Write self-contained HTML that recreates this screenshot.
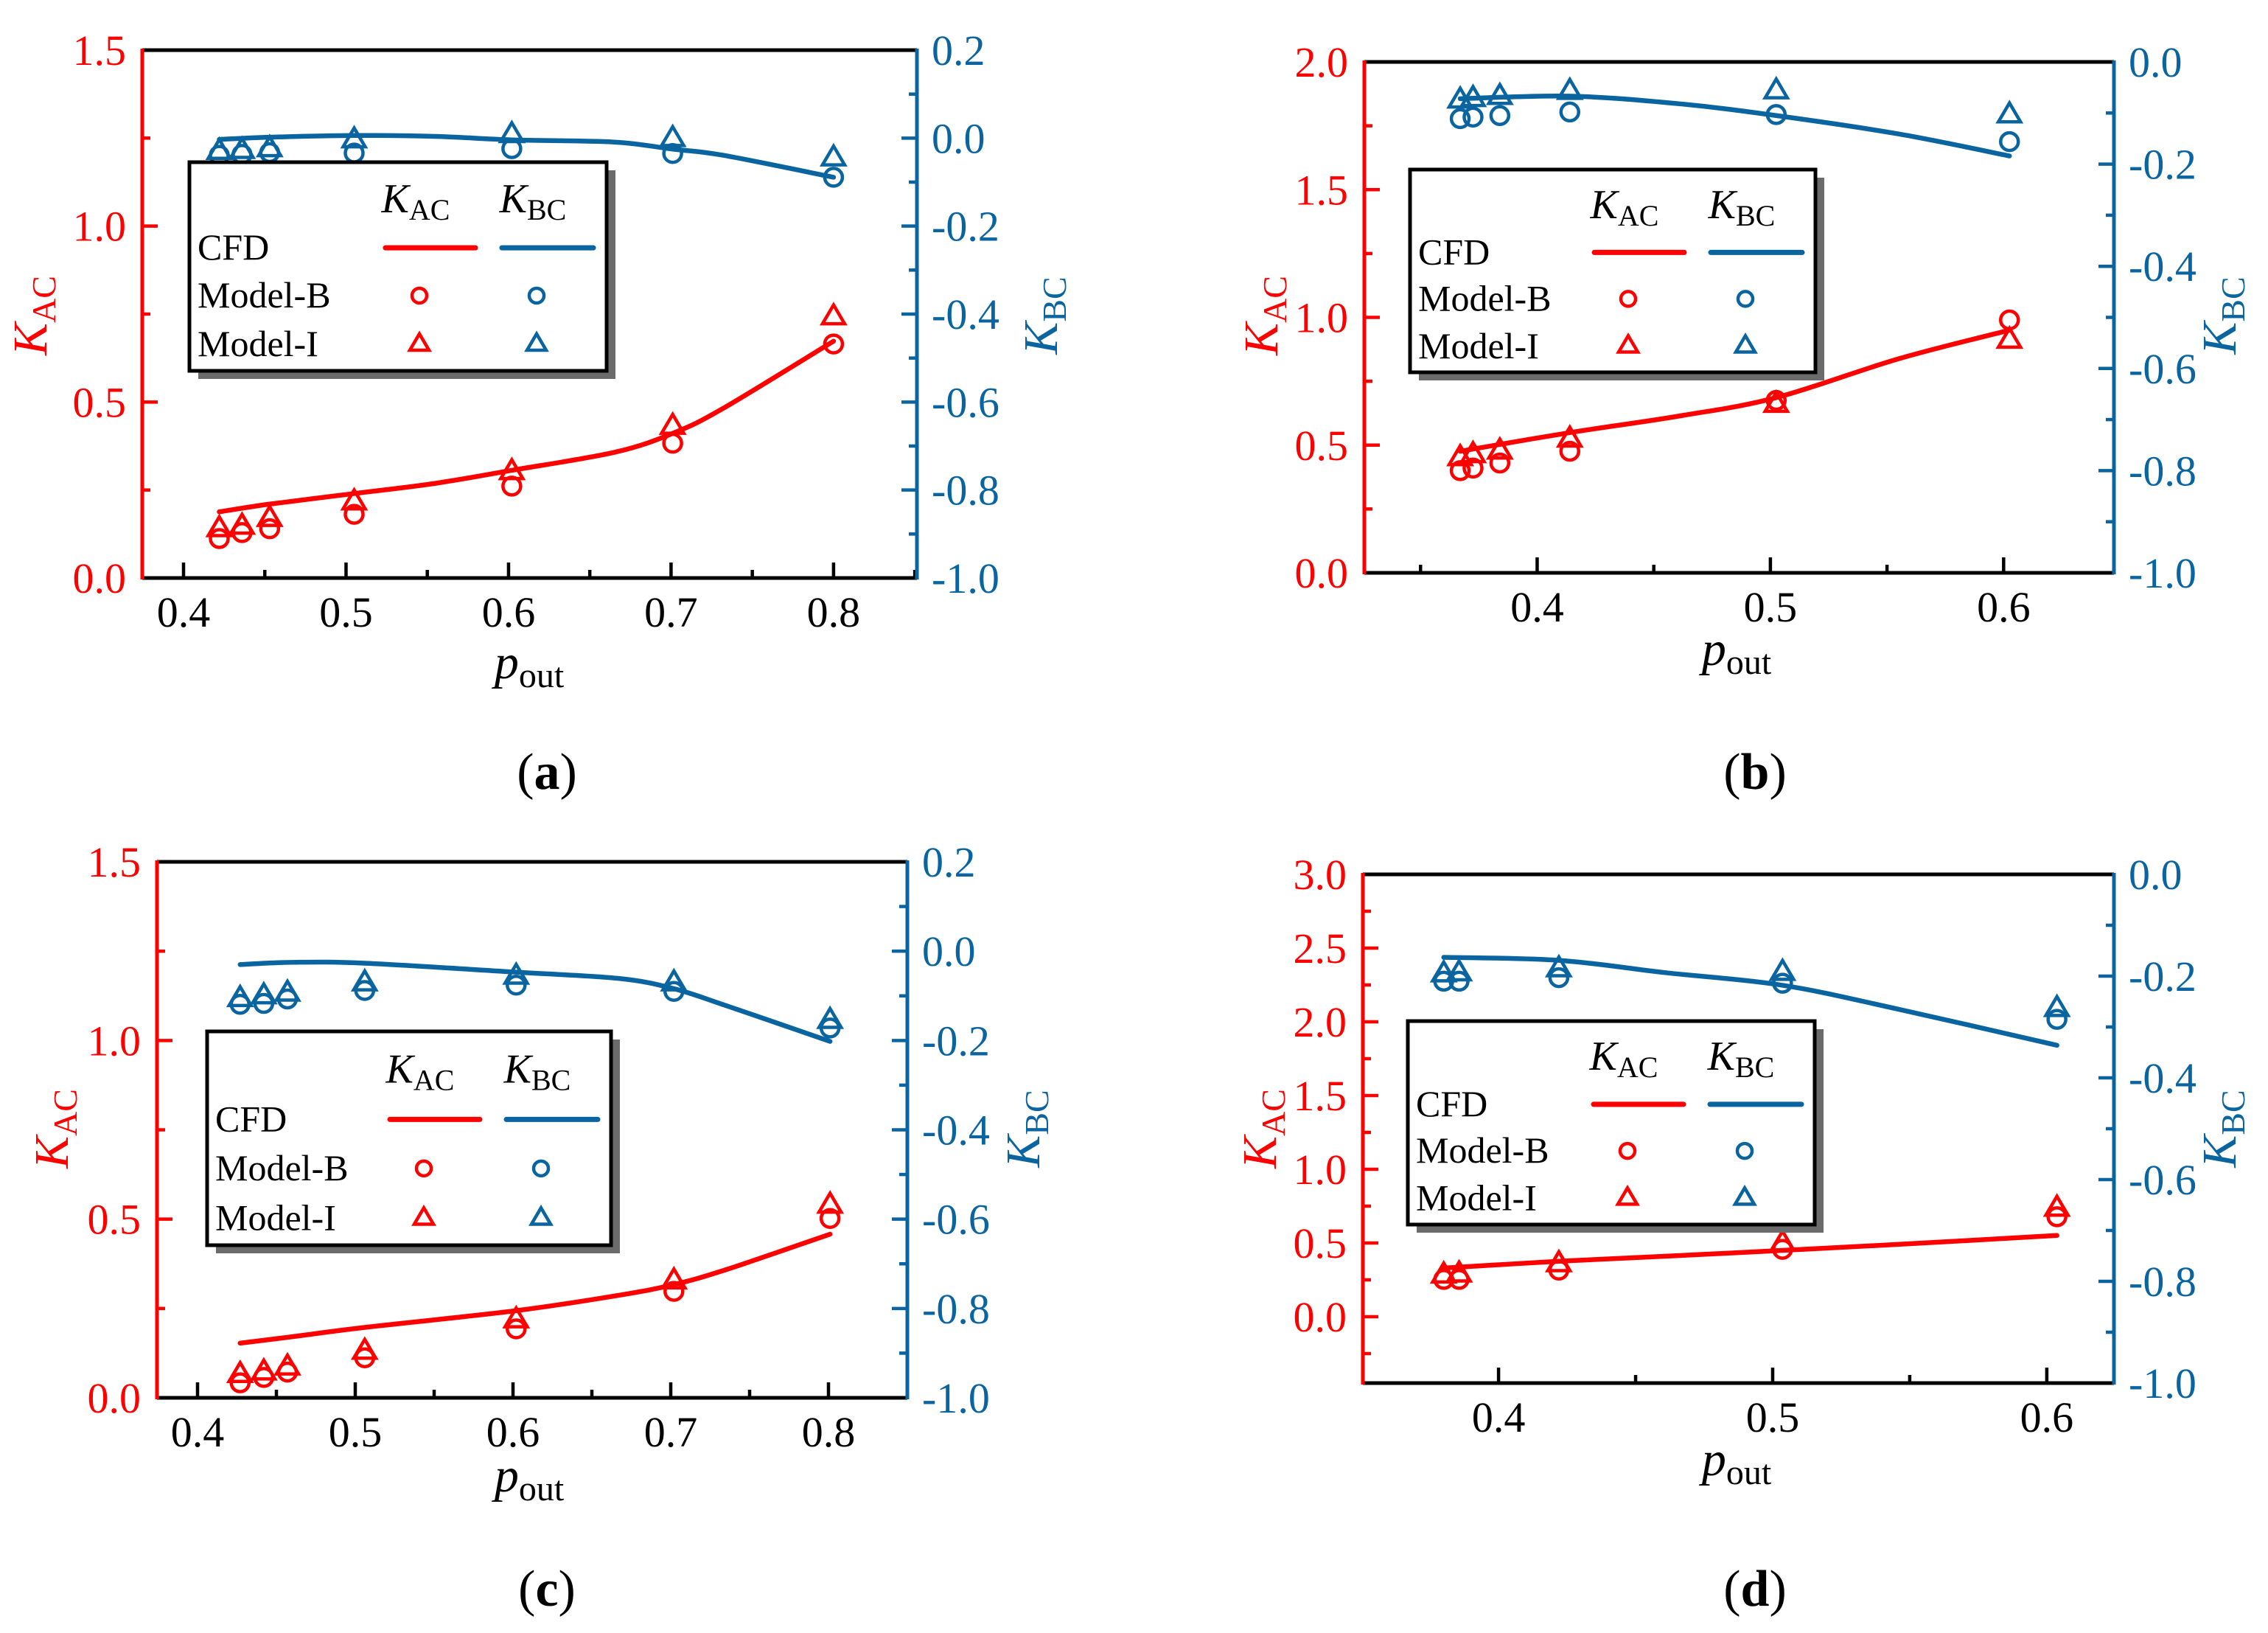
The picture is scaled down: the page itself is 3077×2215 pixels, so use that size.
<!DOCTYPE html>
<html><head><meta charset="utf-8">
<style>
html,body{margin:0;padding:0;background:#fff;}
svg{display:block;font-family:"Liberation Serif",serif;}
</style></head>
<body>
<svg id="fig" width="3077" height="2215" viewBox="0 0 3077 2215" xmlns="http://www.w3.org/2000/svg"></svg>
<script>
// ---------- Data ----------
// Panel a
const aCfdX=[0.422,0.453,0.505,0.555,0.602,0.665,0.701,0.732,0.800];
const aCfdAC=[0.188,0.21,0.24,0.269,0.306,0.357,0.411,0.482,0.673];
const aCfdBC=[-0.003,0.002,0.006,0.004,-0.004,-0.009,-0.025,-0.039,-0.089];
const aX=[0.422,0.436,0.453,0.505,0.602,0.701,0.800];
const aBAC=[0.112,0.129,0.14,0.181,0.261,0.383,0.665];
const aIAC=[0.144,0.151,0.173,0.22,0.306,0.435,0.746];
const aBBC=[-0.039,-0.037,-0.033,-0.034,-0.024,-0.035,-0.089];
const aIBC=[-0.027,-0.025,-0.021,-0.001,0.011,0.002,-0.042];
// Panel b
const bCfdX=[0.367,0.414,0.461,0.5025,0.555,0.6025];
const bCfdAC=[0.476,0.549,0.614,0.686,0.838,0.95];
const bCfdBC=[-0.072,-0.067,-0.082,-0.105,-0.141,-0.184];
const bX=[0.367,0.3725,0.384,0.414,0.5025,0.6025];
const bBAC=[0.40,0.41,0.43,0.476,0.675,0.99];
const bIAC=[0.456,0.468,0.482,0.529,0.665,0.916];
const bBBC=[-0.111,-0.108,-0.105,-0.098,-0.103,-0.156];
const bIBC=[-0.072,-0.069,-0.065,-0.055,-0.054,-0.101];
// Panel c
const cCfdX=[0.427,0.46,0.506,0.602,0.667,0.702,0.736,0.801];
const cCfdAC=[0.153,0.171,0.197,0.244,0.287,0.317,0.36,0.458];
const cCfdBC=[-0.030,-0.025,-0.027,-0.047,-0.061,-0.084,-0.123,-0.202];
const cX=[0.427,0.442,0.457,0.506,0.602,0.702,0.801];
const cBAC=[0.042,0.057,0.072,0.112,0.193,0.298,0.502];
const cIAC=[0.069,0.076,0.09,0.134,0.222,0.331,0.543];
const cBBC=[-0.119,-0.117,-0.107,-0.088,-0.076,-0.09,-0.172];
const cIBC=[-0.103,-0.097,-0.091,-0.068,-0.053,-0.068,-0.152];
// Panel d
const dCfdX=[0.380,0.422,0.4605,0.5036,0.545,0.6037];
const dCfdAC=[0.33,0.376,0.41,0.45,0.49,0.551];
const dCfdBC=[-0.163,-0.169,-0.193,-0.218,-0.264,-0.336];
const dX=[0.380,0.3856,0.422,0.5036,0.6037];
const dBAC=[0.253,0.253,0.316,0.457,0.678];
const dIAC=[0.292,0.299,0.369,0.509,0.745];
const dBBC=[-0.21,-0.21,-0.203,-0.214,-0.285];
const dIBC=[-0.193,-0.191,-0.183,-0.19,-0.261];
// Tick labels
const xTicksAC=["0.4","0.5","0.6","0.7","0.8"];
const xTicksBD=["0.4","0.5","0.6"];
const yLTicks15=["0.0","0.5","1.0","1.5"];
const yLTicks2=["0.0","0.5","1.0","1.5","2.0"];
const yLTicks3=["0.0","0.5","1.0","1.5","2.0","2.5","3.0"];
const yRTicks02=["-1.0","-0.8","-0.6","-0.4","-0.2","0.0","0.2"];
const yRTicks0=["-1.0","-0.8","-0.6","-0.4","-0.2","0.0"];

const RED="#ff0000", BLUE="#0a64a0";
const svg=document.getElementById('fig');
const NS="http://www.w3.org/2000/svg";
function mk(tag,attrs,parent){const e=document.createElementNS(NS,tag);for(const k in attrs)e.setAttribute(k,attrs[k]);(parent||svg).appendChild(e);return e;}

const panels=[
 {id:'a',L:193,R:1244,T:68,B:784,xmin:0.3746,xmax:0.8513,yl:[0,1.5],yr:[-1,0.2],xt:xTicksAC,ylt:yLTicks15,yrt:yRTicks02,lmin:0.25,rmin:0.1,
  cx:aCfdX,cac:aCfdAC,cbc:aCfdBC,px:aX,bac:aBAC,iac:aIAC,bbc:aBBC,ibc:aIBC,
  leg:[257,220,823,503],kl:[63,428],kr:[1434,428],po:[718,920],lab:[742,1070]},
 {id:'b',L:1851,R:2868,T:84,B:777,xmin:0.3259,xmax:0.6473,yl:[0,2],yr:[-1,0],xt:xTicksBD,ylt:yLTicks2,yrt:yRTicks0,lmin:0.25,rmin:0.1,
  cx:bCfdX,cac:bCfdAC,cbc:bCfdBC,px:bX,bac:bBAC,iac:bIAC,bbc:bBBC,ibc:bIBC,
  leg:[1913,230,2463,505],kl:[1733,428],kr:[3033,428],po:[2356,902],lab:[2381,1070]},
 {id:'c',L:213,R:1231,T:1169,B:1896,xmin:0.3743,xmax:0.8500,yl:[0,1.5],yr:[-1,0.2],xt:xTicksAC,ylt:yLTicks15,yrt:yRTicks02,lmin:0.25,rmin:0.1,
  cx:cCfdX,cac:cCfdAC,cbc:cCfdBC,px:cX,bac:cBAC,iac:cIAC,bbc:cBBC,ibc:cIBC,
  leg:[281,1399,829,1689],kl:[92,1531],kr:[1410,1531],po:[718,2023],lab:[742,2178]},
 {id:'d',L:1849,R:2868,T:1186,B:1876,xmin:0.3505,xmax:0.6245,yl:[-0.45,3.0],yr:[-1,0],xt:xTicksBD,ylt:yLTicks3,yrt:yRTicks0,lmin:0.25,rmin:0.1,
  cx:dCfdX,cac:dCfdAC,cbc:dCfdBC,px:dX,bac:dBAC,iac:dIAC,bbc:dBBC,ibc:dIBC,
  leg:[1910,1385,2462,1661],kl:[1731,1531],kr:[3033,1531],po:[2356,2001],lab:[2381,2178]}
];

function circle(g,x,y,c,r){const e=mk('circle',{cx:x,cy:y,r:r||12,fill:'none',stroke:c,'stroke-width':4.5},g);return e;}
function tri(g,x,y,c,s){s=s||15;const e=mk('polygon',{points:`${x-s},${y+s*0.75} ${x+s},${y+s*0.75} ${x},${y-s*0.95}`,fill:'none',stroke:c,'stroke-width':4.5,'stroke-linejoin':'miter'},g);return e;}
function smooth(pts){
  let d='M'+pts[0][0]+','+pts[0][1];
  for(let i=0;i<pts.length-1;i++){
    const p0=pts[Math.max(0,i-1)],p1=pts[i],p2=pts[i+1],p3=pts[Math.min(pts.length-1,i+2)];
    const c1x=p1[0]+(p2[0]-p0[0])/6,c1y=p1[1]+(p2[1]-p0[1])/6;
    const c2x=p2[0]-(p3[0]-p1[0])/6,c2y=p2[1]-(p3[1]-p1[1])/6;
    d+=` C${c1x},${c1y} ${c2x},${c2y} ${p2[0]},${p2[1]}`;
  }
  return d;
}

panels.forEach(p=>{
  const g=mk('g',{});
  
  
  const X=v=>p.L+(v-p.xmin)/(p.xmax-p.xmin)*(p.R-p.L);
  const YL=v=>p.B-(v-p.yl[0])/(p.yl[1]-p.yl[0])*(p.B-p.T);
  const YR=v=>p.B-(v-p.yr[0])/(p.yr[1]-p.yr[0])*(p.B-p.T);
  const xg=mk('g',{},g);
  
  
  for(let v=Math.ceil(p.xmin/0.05)*0.05; v<=p.xmax+1e-9; v+=0.05){
    const major=Math.abs(v*10-Math.round(v*10))<1e-6;
    const x=X(v);
    mk('line',{x1:x,x2:x,y1:p.B,y2:p.B-(major?21:11),stroke:'#000','stroke-width':4.5},xg);
  }
  p.xt.forEach(t=>{const e=mk('text',{x:X(parseFloat(t)),y:p.B+66,'font-size':58,'text-anchor':'middle',fill:'#000'},xg);e.textContent=t;});
  const lg=mk('g',{},g);
  
  
  for(let v=Math.ceil(p.yl[0]/p.lmin-1e-9)*p.lmin; v<=p.yl[1]+1e-9; v+=p.lmin){
    const major=Math.abs(v*2-Math.round(v*2))<1e-6;
    const y=YL(v);
    mk('line',{x1:p.L,x2:p.L+(major?21:11),y1:y,y2:y,stroke:RED,'stroke-width':4.5},lg);
  }
  p.ylt.forEach(t=>{const e=mk('text',{x:p.L-22,y:YL(parseFloat(t))+20,'font-size':58,'text-anchor':'end',fill:RED},lg);e.textContent=t;});
  const rg=mk('g',{},g);
  
  
  for(let v=p.yr[0]; v<=p.yr[1]+1e-9; v+=p.rmin){
    const major=Math.abs(v*5-Math.round(v*5))<1e-6;
    const y=YR(v);
    mk('line',{x1:p.R,x2:p.R-(major?21:11),y1:y,y2:y,stroke:BLUE,'stroke-width':4.5},rg);
  }
  p.yrt.forEach(t=>{const e=mk('text',{x:p.R+20,y:YR(parseFloat(t))+20,'font-size':58,'text-anchor':'start',fill:BLUE},rg);e.textContent=t;});
  mk('line',{x1:p.L,x2:p.R,y1:p.T,y2:p.T,stroke:'#000','stroke-width':5},g);
  mk('line',{x1:p.L,x2:p.R,y1:p.B,y2:p.B,stroke:'#000','stroke-width':5},g);
  mk('line',{x1:p.L,x2:p.L,y1:p.T-2,y2:p.B+2,stroke:RED,'stroke-width':5},g);
  mk('line',{x1:p.R,x2:p.R,y1:p.T-2,y2:p.B+2,stroke:BLUE,'stroke-width':5},g);
  const l1=mk('path',{d:smooth(p.cx.map((x,i)=>[X(x),YL(p.cac[i])])),fill:'none',stroke:RED,'stroke-width':6.5,'stroke-linejoin':'round','stroke-linecap':'round'},g);
  
  
  const l2=mk('path',{d:smooth(p.cx.map((x,i)=>[X(x),YR(p.cbc[i])])),fill:'none',stroke:BLUE,'stroke-width':6.5,'stroke-linejoin':'round','stroke-linecap':'round'},g);
  
  
  p.px.forEach((x,i)=>{
    const a=circle(g,X(x),YL(p.bac[i]),RED);
    
    
    const b=tri(g,X(x),YL(p.iac[i]),RED);
    
    
    const c=circle(g,X(x),YR(p.bbc[i]),BLUE);
    
    
    const d=tri(g,X(x),YR(p.ibc[i]),BLUE);
    
    
  });
  const [x0,y0,x1,y1]=p.leg, W=x1-x0, H=y1-y0;
  const lgd=mk('g',{},g);
  
  
  mk('rect',{x:x0+12,y:y0+11,width:W,height:H,fill:'#6b6b6b'},lgd);
  mk('rect',{x:x0,y:y0,width:W,height:H,fill:'#fff',stroke:'#000','stroke-width':5},lgd);
  const c1a=x1-300,c1b=x1-178,c2a=x1-142,c2b=x1-18;
  const m1=(c1a+c1b)/2-15, m2=(c2a+c2b)/2-15;
  const hy=y0+H*0.24;
  let t=mk('text',{x:(c1a+c1b)/2-20,y:hy,'font-size':56,'text-anchor':'middle'},lgd);
  t.innerHTML='<tspan font-style="italic">K</tspan><tspan font-size="40" dy="10">AC</tspan>';
  t=mk('text',{x:(c2a+c2b)/2-20,y:hy,'font-size':56,'text-anchor':'middle'},lgd);
  t.innerHTML='<tspan font-style="italic">K</tspan><tspan font-size="40" dy="10">BC</tspan>';
  const rows=['CFD','Model-B','Model-I'], fr=[0.467,0.696,0.93];
  rows.forEach((r,i)=>{const e=mk('text',{x:x0+11,y:y0+H*fr[i],'font-size':50},lgd);e.textContent=r;});
  const ly=y0+H*fr[0]-16;
  mk('line',{x1:c1a,x2:c1b,y1:ly,y2:ly,stroke:RED,'stroke-width':7,'stroke-linecap':'round'},lgd);
  mk('line',{x1:c2a,x2:c2b,y1:ly,y2:ly,stroke:BLUE,'stroke-width':7,'stroke-linecap':'round'},lgd);
  circle(lgd,m1,y0+H*fr[1]-16,RED,10);
  circle(lgd,m2,y0+H*fr[1]-16,BLUE,10);
  tri(lgd,m1,y0+H*fr[2]-18,RED,13);
  tri(lgd,m2,y0+H*fr[2]-18,BLUE,13);
  t=mk('text',{x:p.kl[0],y:p.kl[1],'font-size':66,'text-anchor':'middle',fill:RED,transform:`rotate(-90 ${p.kl[0]} ${p.kl[1]})`},g);
  t.innerHTML='<tspan font-style="italic">K</tspan><tspan font-size="46" dy="12">AC</tspan>';
  
  
  t=mk('text',{x:p.kr[0],y:p.kr[1],'font-size':66,'text-anchor':'middle',fill:BLUE,transform:`rotate(-90 ${p.kr[0]} ${p.kr[1]})`},g);
  t.innerHTML='<tspan font-style="italic">K</tspan><tspan font-size="46" dy="12">BC</tspan>';
  
  
  t=mk('text',{x:p.po[0],y:p.po[1],'font-size':66,'text-anchor':'middle',fill:'#000'},g);
  t.innerHTML='<tspan font-style="italic">p</tspan><tspan font-size="48" dy="12">out</tspan>';
  
  
  t=mk('text',{x:p.lab[0],y:p.lab[1],'font-size':70,'text-anchor':'middle',fill:'#000'},g);
  t.innerHTML='(<tspan font-weight="bold">'+p.id+'</tspan>)';
  
  
});
</script>
</body></html>
